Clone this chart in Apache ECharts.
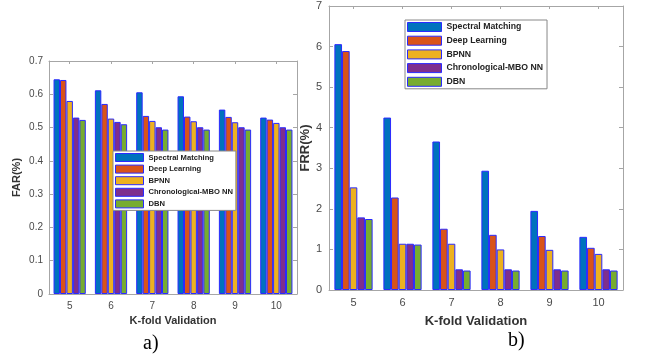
<!DOCTYPE html>
<html><head><meta charset="utf-8">
<script src="https://cdn.jsdelivr.net/npm/echarts@6/dist/echarts.min.js"></script>
<style>html,body{margin:0;padding:0;background:#fff}#c{width:646px;height:358px}</style>
</head><body><div id="c"></div>
<script>
const categories = ['5','6','7','8','9','10'];
const seriesNames = ['Spectral Matching','Deep Learning','BPNN','Chronological-MBO NN','DBN'];
const farSpectral = [0.645,0.612,0.606,0.594,0.554,0.530];
const farDeep     = [0.643,0.571,0.535,0.533,0.532,0.524];
const farBPNN     = [0.580,0.527,0.520,0.519,0.516,0.514];
const farChrono   = [0.530,0.517,0.501,0.501,0.501,0.501];
const farDBN      = [0.523,0.510,0.494,0.494,0.494,0.494];
const frrSpectral = [6.06,4.25,3.66,2.94,1.95,1.31];
const frrDeep     = [5.89,2.28,1.51,1.36,1.33,1.04];
const frrBPNN     = [2.53,1.14,1.14,1.00,0.99,0.89];
const frrChrono   = [1.79,1.14,0.51,0.51,0.51,0.51];
const frrDBN      = [1.75,1.12,0.48,0.48,0.48,0.48];
const farTicks = [0,0.1,0.2,0.3,0.4,0.5,0.6,0.7];
const frrTicks = [0,1,2,3,4,5,6,7];

const colors = ['#0072BD','#D95319','#EDB120','#7E2F8E','#77AC30'];
const edge = '#2a2aff';
const axisGray = '#a6a6a6';
const labelGray = '#4a4a4a';
const font = 'Liberation Sans, Arial, sans-serif';

const farData = [farSpectral, farDeep, farBPNN, farChrono, farDBN];
const frrData = [frrSpectral, frrDeep, frrBPNN, frrChrono, frrDBN];

function xAxes(gridIndex, labelSize, nameSize, nameGap) {
  return [{
    type:'category', gridIndex, data:categories, position:'bottom',
    axisLine:{show:true, onZero:false, lineStyle:{color:axisGray}},
    axisTick:{show:true, inside:true, alignWithLabel:true, length:3, lineStyle:{color:axisGray}},
    axisLabel:{color:labelGray, fontSize:labelSize, fontFamily:font, margin:7},
    name:'K-fold Validation', nameLocation:'middle', nameGap,
    nameTextStyle:{color:'#333', fontWeight:'bold', fontSize:nameSize, fontFamily:font}
  },{
    type:'category', gridIndex, data:categories, position:'top',
    axisLine:{show:true, onZero:false, lineStyle:{color:axisGray}},
    axisTick:{show:true, inside:true, alignWithLabel:true, length:3, lineStyle:{color:axisGray}},
    axisLabel:{show:false}
  }];
}
function yAxes(gridIndex, max, interval, name, labelSize, nameSize, nameGap, margin) {
  return [{
    type:'value', gridIndex, min:0, max, interval, position:'left',
    axisLine:{show:true, onZero:false, lineStyle:{color:axisGray}},
    axisTick:{show:true, inside:true, length:4, lineStyle:{color:axisGray}},
    splitLine:{show:false},
    axisLabel:{color:labelGray, fontSize:labelSize, fontFamily:font, margin},
    name, nameLocation:'middle', nameGap,
    nameTextStyle:{color:'#333', fontWeight:'bold', fontSize:nameSize, fontFamily:font}
  },{
    type:'value', gridIndex, min:0, max, interval, position:'right',
    axisLine:{show:true, onZero:false, lineStyle:{color:axisGray}},
    axisTick:{show:true, inside:true, length:4, lineStyle:{color:axisGray}},
    splitLine:{show:false}, axisLabel:{show:false}
  }];
}

const series = [];
seriesNames.forEach((n,i)=>{
  series.push({type:'bar', name:n, xAxisIndex:0, yAxisIndex:0, data:farData[i],
    barGap:'0%', barCategoryGap:'22%',
    itemStyle:{color:colors[i], borderColor:edge, borderWidth:1}});
});
seriesNames.forEach((n,i)=>{
  series.push({type:'bar', name:n, xAxisIndex:2, yAxisIndex:2, data:frrData[i],
    barGap:'0%', barCategoryGap:'22%',
    itemStyle:{color:colors[i], borderColor:edge, borderWidth:1}});
});

const chart = echarts.init(document.getElementById('c'), null, {renderer:'canvas'});
chart.setOption({
  animation:false,
  color:colors,
  grid:[
    {left:49, right:349, top:61, bottom:64},
    {left:329, right:23, top:6, bottom:68}
  ],
  xAxis:[...xAxes(0,10,11,19), ...xAxes(1,11,13,25)],
  yAxis:[...yAxes(0,0.7,0.1,'FAR(%)',10,11,27,6), ...yAxes(1,7,1,'FRR(%)',11,13,17,7)],
  legend:[{
    left:113, top:151, orient:'vertical', data:seriesNames,
    itemWidth:28, itemHeight:8, itemGap:2.6, itemTextGap:3,
    padding:[2,3,2,2], backgroundColor:'#fff', borderColor:'#888', borderWidth:1,
    icon:'rect', selectedMode:false,
    itemStyle:{borderColor:edge, borderWidth:1},
    textStyle:{fontSize:7.6, fontWeight:'bold', color:'#222', fontFamily:font}
  },{
    left:405, top:20, orient:'vertical', data:seriesNames,
    itemWidth:34, itemHeight:9, itemGap:3.7, itemTextGap:3,
    padding:[2,4,2,2], backgroundColor:'#fff', borderColor:'#888', borderWidth:1,
    icon:'rect', selectedMode:false,
    itemStyle:{borderColor:edge, borderWidth:1},
    textStyle:{fontSize:8.7, fontWeight:'bold', color:'#222', fontFamily:font}
  }],
  graphic:[
    {type:'text', left:143, top:334, style:{text:'a)', font:'20px "Liberation Serif", "Times New Roman", serif', fill:'#000'}},
    {type:'text', left:508, top:331, style:{text:'b)', font:'20px "Liberation Serif", "Times New Roman", serif', fill:'#000'}}
  ],
  series
});
</script></body></html>
